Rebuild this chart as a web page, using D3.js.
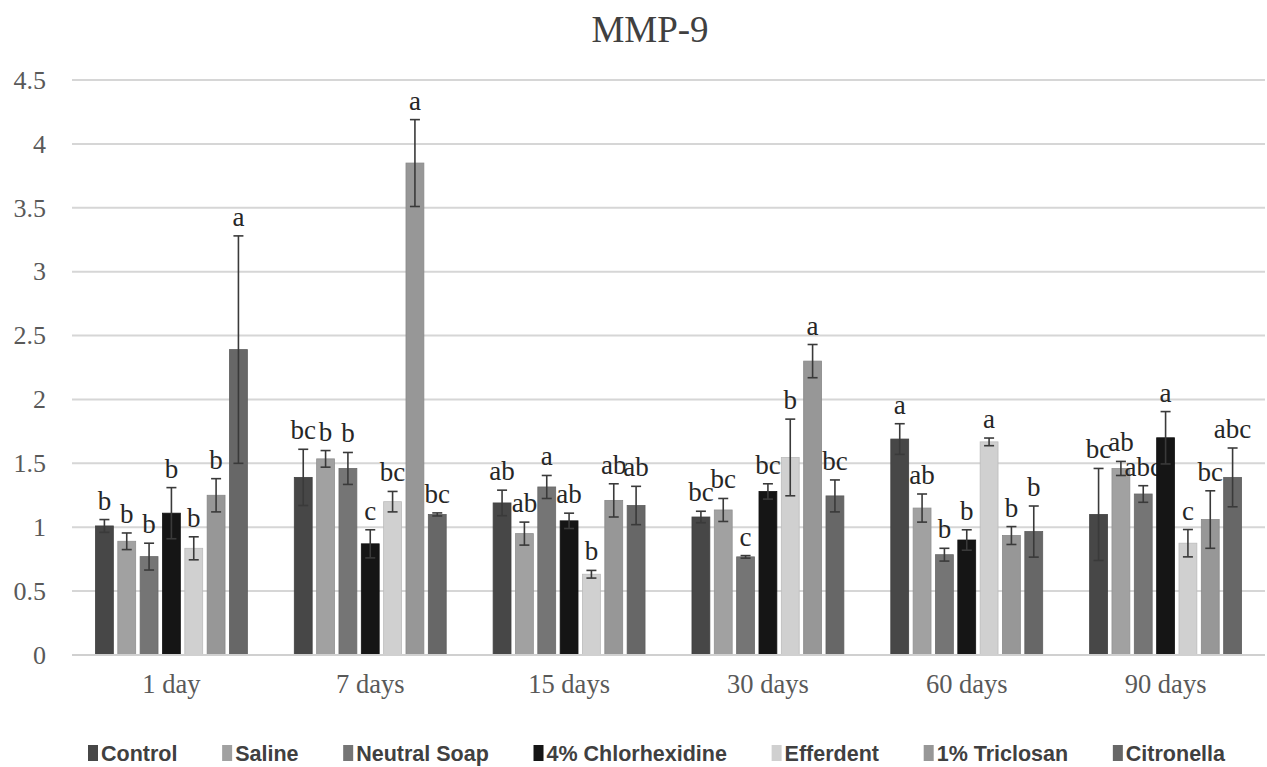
<!DOCTYPE html>
<html><head><meta charset="utf-8">
<script src="https://cdn.jsdelivr.net/npm/d3@7/dist/d3.min.js"></script>
<style>body{margin:0;background:#fff}svg{display:block}</style>
</head><body>
<svg id="c" width="1267" height="767"></svg>
<script>
const title = "MMP-9";
const groups = ["1 day","7 days","15 days","30 days","60 days","90 days"];
const series = ["Control","Saline","Neutral Soap","4% Chlorhexidine","Efferdent","1% Triclosan","Citronella"];
const colors = ["#474747","#a1a1a1","#757575","#151515","#d0d0d0","#979797","#676767"];
const yTicks = [0,0.5,1,1.5,2,2.5,3,3.5,4,4.5];
// values[group][series]
const values = [
  [1.01,0.89,0.77,1.11,0.835,1.25,2.39],
  [1.39,1.535,1.46,0.87,1.20,3.85,1.10],
  [1.19,0.95,1.315,1.05,0.632,1.21,1.17],
  [1.08,1.135,0.768,1.28,1.546,2.30,1.245],
  [1.69,1.15,0.785,0.90,1.668,0.935,0.966],
  [1.10,1.46,1.26,1.70,0.875,1.06,1.39]
];
const errors = [
  [0.05,0.065,0.105,0.20,0.09,0.13,0.89],
  [0.22,0.065,0.125,0.11,0.08,0.34,0.012],
  [0.10,0.09,0.09,0.06,0.03,0.13,0.15],
  [0.045,0.09,0.01,0.06,0.30,0.13,0.125],
  [0.12,0.11,0.05,0.08,0.03,0.07,0.20],
  [0.36,0.055,0.065,0.205,0.107,0.225,0.23]
];
const letters = [
  ["b","b","b","b","b","b","a"],
  ["bc","b","b","c","bc","a","bc"],
  ["ab","ab","a","ab","b","ab","ab"],
  ["bc","bc","c","bc","b","a","bc"],
  ["a","ab","b","b","a","b","b"],
  ["bc","ab","abc","a","c","bc","abc"]
];

const SERIF = "'Liberation Serif','Times New Roman',serif";
const svg = d3.select("#c");
const L = 72, R = 1265, T = 80, B = 655;
const y = d3.scaleLinear().domain([0,4.5]).range([B,T]);
const x0 = d3.scaleBand().domain(groups).range([L,R]).paddingInner(0).paddingOuter(0);
const x1 = d3.scaleBand().domain(series).range([19, x0.bandwidth()-19]).padding(0.2);

// gridlines
svg.append("g").selectAll("line").data(yTicks).join("line")
  .attr("x1",L).attr("x2",R).attr("y1",d=>y(d)).attr("y2",d=>y(d))
  .attr("stroke","#d6d6d6").attr("stroke-width",2);

// y axis labels
const yAxis = d3.axisLeft(y).tickValues(yTicks).tickSize(0).tickPadding(0).tickFormat(d3.format("~g"));
const ga = svg.append("g").attr("transform","translate(46,0)").call(yAxis);
ga.select(".domain").remove();
ga.selectAll("text").style("font-family",SERIF).style("font-size","26px").attr("fill","#595959");

// x axis labels
const xAxis = d3.axisBottom(x0).tickSize(0).tickPadding(0);
const gx = svg.append("g").attr("transform",`translate(0,${B+19})`).call(xAxis);
gx.select(".domain").remove();
gx.selectAll("text").style("font-family",SERIF).style("font-size","26.5px").attr("fill","#595959");

// bars
const gg = svg.append("g").selectAll("g").data(groups).join("g")
  .attr("transform",d=>`translate(${x0(d)},0)`);
gg.each(function(g,gi){
  const sel = d3.select(this);
  series.forEach((s,si)=>{
    const v = values[gi][si], e = errors[gi][si];
    const cx = x1(s) + x1.bandwidth()/2;
    sel.append("rect").attr("x",x1(s)).attr("width",x1.bandwidth())
      .attr("y",y(v)).attr("height",B-y(v)).attr("fill",colors[si])
      .attr("stroke",d3.color(colors[si]).darker(0.3)).attr("stroke-width",0.8);
    const eg = sel.append("g").attr("stroke","#3a3a3a").attr("stroke-width",1.6);
    eg.append("line").attr("x1",cx).attr("x2",cx).attr("y1",y(v+e)).attr("y2",y(Math.max(0,v-e)));
    eg.append("line").attr("x1",cx-5).attr("x2",cx+5).attr("y1",y(v+e)).attr("y2",y(v+e));
    eg.append("line").attr("x1",cx-5).attr("x2",cx+5).attr("y1",y(v-e)).attr("y2",y(v-e));
    sel.append("text").attr("x",cx).attr("y",y(v+e)-10).attr("text-anchor","middle")
      .style("font-family",SERIF).style("font-size","27px").attr("fill","#262626")
      .text(letters[gi][si]);
  });
});
// baseline
svg.append("line").attr("x1",L).attr("x2",R).attr("y1",B).attr("y2",B)
  .attr("stroke","#d0d0d0").attr("stroke-width",2);

// title
svg.append("text").attr("x",650).attr("y",42).attr("text-anchor","middle")
  .style("font-family",SERIF).style("font-size","37px").attr("fill","#404040").text(title);

// legend
const lg = svg.append("g").style("font-family","'Liberation Sans',Arial,sans-serif").style("font-weight","bold")
  .style("font-size","21.5px").attr("fill","#404040");
const its = series.map((s,i)=>{
  const it = lg.append("g");
  it.append("rect").attr("x",0).attr("y",-16).attr("width",10).attr("height",16).attr("fill",colors[i]);
  const t = it.append("text").attr("x",13).attr("y",0).text(s);
  return {it, w: 13 + t.node().getComputedTextLength()};
});
const legL = 88, legR = 1225;
const sumW = d3.sum(its, d=>d.w);
const gap = (legR - legL - sumW) / (its.length - 1);
let lx = legL;
its.forEach(d=>{ d.it.attr("transform",`translate(${lx},0)`); lx += d.w + gap; });
lg.attr("transform","translate(0,761)");
</script>
</body></html>
